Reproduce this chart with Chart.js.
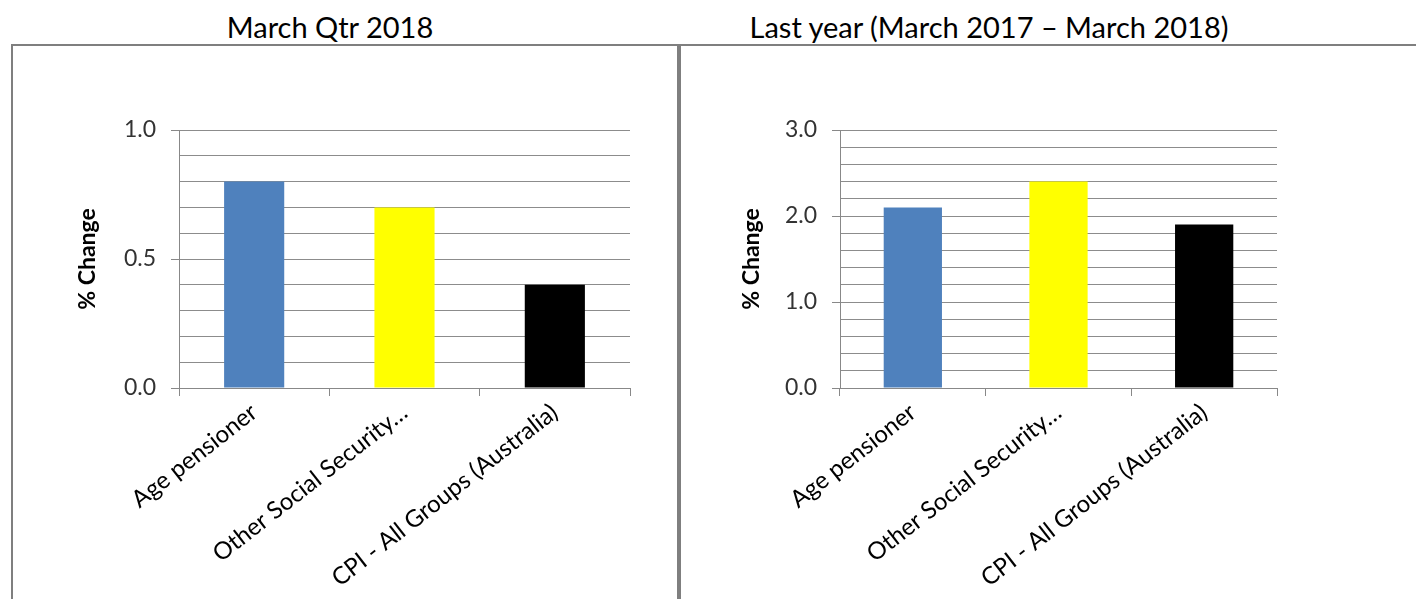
<!DOCTYPE html>
<html>
<head>
<meta charset="utf-8">
<script src="https://cdn.jsdelivr.net/npm/chart.js@4/dist/chart.umd.min.js"></script>
<style>
  html, body { margin: 0; padding: 0; background: #fff; }
  body { width: 1416px; height: 599px; position: relative; overflow: hidden; font-family: Lato, "Open Sans", sans-serif; }
  .title { position: absolute; top: 9px; font-size: 29px; color: #000; text-align: center; white-space: nowrap; }
  .box { position: absolute; top: 44px; border: 2px solid #7f7f7f; height: 700px; }
  canvas { position: absolute; }
</style>
</head>
<body>
<div class="title" style="left:130px; width:400px;">March Qtr 2018</div>
<div class="title" style="left:739px; width:500px;">Last year (March 2017 – March 2018)</div>
<div class="box" style="left:11px; width:666px;"></div>
<div class="box" style="left:677px; width:800px;"></div>
<canvas id="c1" style="left:14px; top:47px;"></canvas>
<canvas id="c2" style="left:680px; top:47px;"></canvas>
<script>
const categories = ["Age pensioner", "Other Social Security…", "CPI - All Groups (Australia)"];
const quarterValues = [0.8, 0.7, 0.4];
const yearValues = [2.1, 2.4, 1.9];
const barColors = ["#4F81BD", "#FFFF00", "#000000"];
const quarterTicks = { max: 1.0, step: 0.1, major: 0.5 };
const yearTicks = { max: 3.0, step: 0.2, major: 1.0 };

function isMajor(v, major) {
  return Math.abs(v / major - Math.round(v / major)) < 1e-6;
}

function makeChart(id, w, h, values, t, yWidth, padLeft, plotRight) {
  const cv = document.getElementById(id);
  cv.width = w; cv.height = h;
  return new Chart(cv, {
    type: 'bar',
    data: {
      labels: categories,
      datasets: [{
        data: values,
        backgroundColor: barColors,
        borderWidth: 0,
        barPercentage: 0.4,
        categoryPercentage: 1.0
      }]
    },
    options: {
      responsive: false,
      animation: false,
      devicePixelRatio: 1,
      layout: { padding: { left: padLeft, top: 83, right: w - plotRight, bottom: 0 } },
      plugins: { legend: { display: false }, tooltip: { enabled: false } },
      scales: {
        x: {
          offset: true,
          grid: { offset: true, drawOnChartArea: false, drawTicks: true, tickLength: 8, color: '#888888', lineWidth: 1 },
          border: { color: '#888888', width: 1 },
          ticks: {
            color: '#000', font: { family: 'Lato', size: 24 },
            minRotation: 38, maxRotation: 38, autoSkip: false, padding: 2
          },
          afterFit: s => { s.height = h - 83 - 258; }
        },
        y: {
          min: 0, max: t.max,
          afterFit: s => { s.width = yWidth; },
          afterBuildTicks: s => {
            const ticks = [];
            const n = Math.round(t.max / t.step);
            for (let i = 0; i <= n; i++) ticks.push({ value: +(i * t.step).toFixed(4) });
            s.ticks = ticks;
          },
          grid: {
            color: '#8c8c8c', lineWidth: 1, drawTicks: true, tickLength: 8,
            tickColor: ctx => (ctx.tick && isMajor(ctx.tick.value, t.major)) ? '#888888' : 'rgba(0,0,0,0)'
          },
          border: { color: '#888888', width: 1 },
          ticks: {
            color: '#333', font: { family: 'Lato', size: 23 }, padding: 15, autoSkip: false,
            callback: v => isMajor(v, t.major) ? v.toFixed(1) : ''
          },
          title: {
            display: true, text: '% Change', color: '#000',
            font: { family: 'Lato', size: 23, weight: 'bold' }, padding: { top: 0, bottom: 0 }
          }
        }
      }
    }
  });
}

makeChart('c1', 662, 552, quarterValues, quarterTicks, 105, 60, 616);
makeChart('c2', 736, 552, yearValues, yearTicks, 102, 58, 597);
</script>
</body>
</html>
